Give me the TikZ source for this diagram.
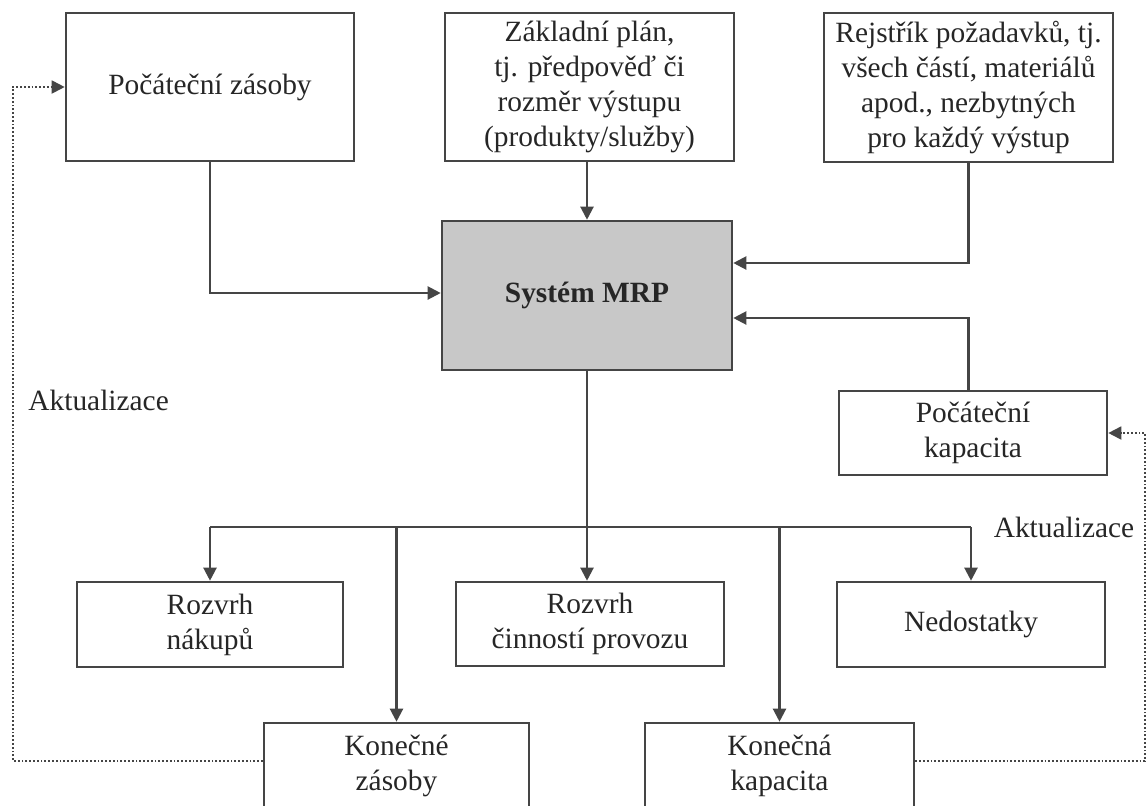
\documentclass[tikz,border=0pt]{standalone}
\usepackage{fontspec}
\setmainfont{Liberation Serif}
\usetikzlibrary{arrows.meta}
\definecolor{linec}{HTML}{454545}
\definecolor{textc}{HTML}{262626}
\definecolor{mrpfill}{HTML}{C8C8C8}
\tikzset{
  box/.style={draw=linec, line width=1.3pt, rectangle, inner sep=0pt, align=center,
    text=textc, font=\fontsize{14.7pt}{17.5pt}\selectfont},
  conn/.style={draw=linec, line width=1.1pt},
  arr/.style={conn, -{Triangle[length=6.5pt,width=6.5pt]}},
  dotarr/.style={draw=linec, line width=0.9pt, densely dotted, -{Triangle[length=6.5pt,width=6.5pt]}},
  lbl/.style={text=textc, font=\fontsize{14.7pt}{17.5pt}\selectfont, inner sep=0pt}
}
\begin{document}
\begin{tikzpicture}[x=0.5pt,y=-0.5pt]
\useasboundingbox (0,0) rectangle (1146,805);
% top row
\node[box, minimum width=144pt, minimum height=74pt] (pz) at (210,87) {Počáteční zásoby};
\node[box, minimum width=144.5pt, minimum height=74pt] (zp) at (589.5,87) {Základní plán,\\tj. předpověď či\\rozměr výstupu\\(produkty/služby)};
\node[box, minimum width=144.5pt, minimum height=74.5pt] (rp) at (968.5,87.5) {Rejstřík požadavků, tj.\\všech částí, materiálů\\apod., nezbytných\\pro každý výstup};
% centre
\node[box, fill=mrpfill, minimum width=145pt, minimum height=74.5pt, font=\fontsize{14.7pt}{17.5pt}\selectfont\bfseries] (mrp) at (587,295.5) {Systém MRP};
\node[box, minimum width=134pt, minimum height=42pt] (pk) at (973,433) {Počáteční\\kapacita};
% outputs
\node[box, minimum width=133pt, minimum height=42.5pt] (rn) at (210,624.5) {Rozvrh\\nákupů};
\node[box, minimum width=134pt, minimum height=42pt] (rc) at (590,624) {Rozvrh\\činností provozu};
\node[box, minimum width=134pt, minimum height=42.5pt] (ne) at (971,624.5) {Nedostatky};
\node[box, minimum width=132.5pt, minimum height=43pt] (kz) at (396.5,766) {Konečné\\zásoby};
\node[box, minimum width=134.5pt, minimum height=43pt] (kk) at (779.5,766) {Konečná\\kapacita};
% labels
\node[lbl, anchor=west] (akl) at (28,400) {Aktualizace};
\node[lbl] (akr) at (1064,527) {Aktualizace};
% inputs to MRP
\draw[arr] (pz.south) |- (mrp.west |- 0,293);
\draw[arr] (zp.south -| mrp.south) -- (mrp.north);
\draw[arr] (rp.south) |- (mrp.east |- 0,263);
\draw[arr] (pk.north -| rp.south) |- (mrp.east |- 0,318);
% outputs bus
\draw[conn] (mrp.south) -- (mrp.south |- 0,527);
\draw[conn] (rn.north |- 0,527) -- (ne.north |- 0,527);
\draw[arr] (mrp.south |- 0,527) -- (mrp.south |- rc.north);
\draw[arr] (rn.north |- 0,527) -- (rn.north);
\draw[arr] (ne.north |- 0,527) -- (ne.north);
\draw[arr] (kz.north |- 0,527) -- (kz.north);
\draw[arr] (kk.north |- 0,527) -- (kk.north);
% feedback loops
\draw[dotarr] (kz.west |- 0,761) -- (13,761) |- (pz.west);
\draw[dotarr] (kk.east |- 0,761) -- (1145,761) |- (pk.east);
\end{tikzpicture}
\end{document}
